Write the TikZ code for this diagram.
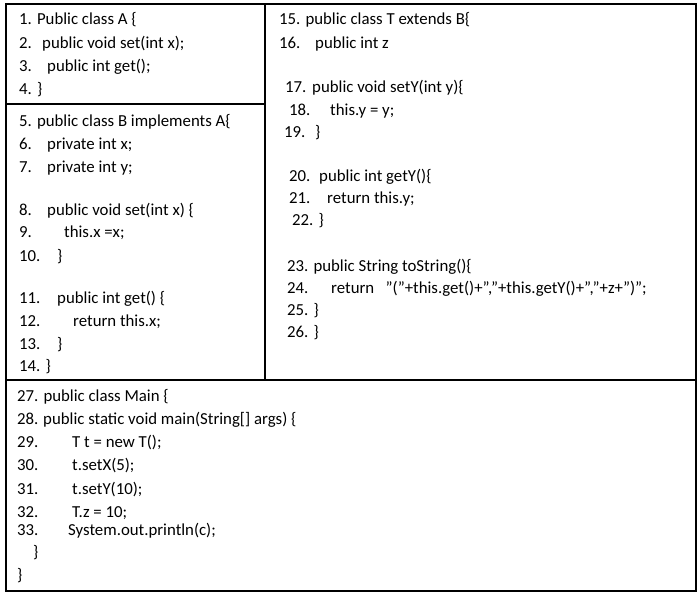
\documentclass[tikz,border=0pt]{standalone}
\usepackage{fontspec}
\setmainfont{Carlito}
\newcommand{\q}{\symbol{34}}
\newcounter{ln}
\tikzset{code/.style={anchor=base west,inner sep=0pt,font=\fontsize{16.8}{19}\selectfont}}
\newcommand{\Ln}[3]{\stepcounter{ln}\node[code] (t\theln) at (#1,595-#2) {#3};}
\newcommand{\Lt}[5]{\stepcounter{ln}\node[code] (n\theln) at (#1,595-#2) {#3};\node[code] (t\theln) at (#4,595-#2) {#5};}
\begin{document}
\begin{tikzpicture}[x=1pt,y=1pt]
\useasboundingbox (0,0) rectangle (700,595);
\draw[line width=1.2pt] (6,4) rectangle (696,591);
\draw[line width=1.2pt] (265,591) -- (265,215);
\draw[line width=1.2pt] (6,491) -- (265,491);
\draw[line width=1.2pt] (6,215) -- (696,215);
% left
\Ln{19}{25}{1. Public class A \{}
\Lt{19}{49}{2.}{42}{public void set(int x);}
\Lt{19}{72}{3.}{47}{public int get();}
\Ln{19}{95}{4. \}}
\Ln{19}{127}{5. public class B implements A\{}
\Lt{19}{150}{6.}{47}{private int x;}
\Lt{19}{173}{7.}{47}{private int y;}
\Lt{19}{216}{8.}{47}{public void set(int x) \{}
\Lt{19}{238}{9.}{64}{this.x =x;}
\Lt{19}{261}{10.}{57}{\}}
\Lt{19}{303}{11.}{57}{public int get() \{}
\Lt{19}{326}{12.}{73}{return this.x;}
\Lt{19}{349}{13.}{57}{\}}
\Ln{19}{371}{14. \}}
% right
\Ln{279}{25}{15. public class T extends B\{}
\Lt{279}{49}{16.}{315}{public int z}
\Lt{285}{93}{17.}{312}{public void setY(int y)\{}
\Lt{289}{116}{18.}{330}{this.y = y;}
\Lt{284}{138}{19.}{315}{\}}
\Lt{289}{182}{20.}{319}{public int getY()\{}
\Lt{289}{204}{21.}{327}{return this.y;}
\Ln{292}{226}{22. \}}
\Ln{287}{271}{23. public String toString()\{}
\Lt{287}{293}{24.}{331}{return\ \ \ \q(\q+this.get()+\q,\q+this.getY()+\q,\q+z+\q)\q;}
\Ln{287}{315}{25. \}}
\Ln{287}{337}{26. \}}
% bottom
\Ln{17}{401}{27. public class Main \{}
\Lt{17}{424}{28.}{43}{public static void main(String[] args) \{}
\Lt{17}{447}{29.}{72}{T t = new T();}
\Lt{17}{470}{30.}{72}{t.setX(5);}
\Lt{17}{494}{31.}{72}{t.setY(10);}
\Lt{17}{517}{32.}{72}{T.z = 10;}
\Lt{17}{535}{33.}{68}{System.out.println(c);}
\Ln{33}{557}{\}}
\Ln{17}{580}{\}}
\end{tikzpicture}
\end{document}
